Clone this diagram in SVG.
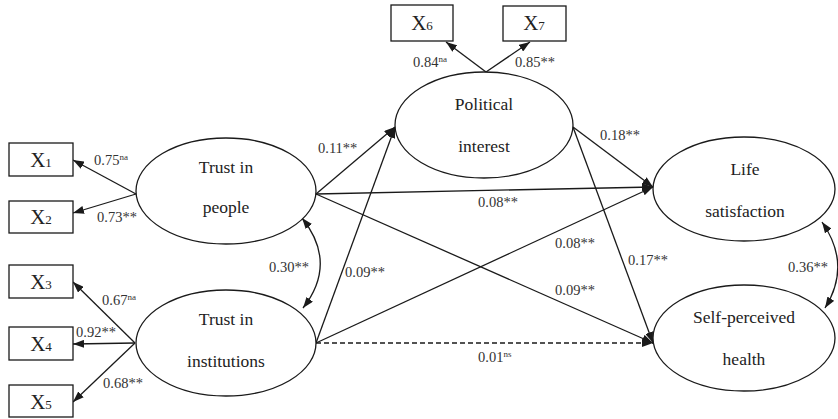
<svg xmlns="http://www.w3.org/2000/svg" width="838" height="419" viewBox="0 0 838 419">
<defs>
<marker id="ah" markerUnits="userSpaceOnUse" markerWidth="11" markerHeight="8" refX="11" refY="4" orient="auto-start-reverse">
<path d="M0,0 L11,4 L0,8 z" fill="#1a1a1a"/>
</marker>
</defs>
<style>
.n{fill:#fff;stroke:#1a1a1a;stroke-width:1.3}
.t{font-family:"Liberation Serif","Times New Roman",serif;font-size:17.5px;fill:#222;text-anchor:middle}
.x{font-family:"Liberation Serif","Times New Roman",serif;font-size:21px;fill:#222;text-anchor:middle}
.x tspan{font-size:13px}
.l{font-family:"Liberation Serif","Times New Roman",serif;font-size:14.5px;fill:#333}
.l tspan{font-size:9px}
.c{fill:none;stroke:#1a1a1a;stroke-width:1.3;marker-end:url(#ah)}
.d{stroke-dasharray:5,3}
.b{marker-start:url(#ah)}
</style>
<rect width="838" height="419" fill="#fff"/>
<g id="connectors">
<line class="c" x1="136" y1="194" x2="73" y2="160"/>
<line class="c" x1="136" y1="194" x2="73" y2="213"/>
<line class="c" x1="135" y1="343" x2="73" y2="282"/>
<line class="c" x1="135" y1="343" x2="73" y2="344"/>
<line class="c" x1="135" y1="343" x2="73" y2="402"/>
<line class="c" x1="486" y1="72" x2="446" y2="42"/>
<line class="c" x1="486" y1="72" x2="530" y2="42"/>
<line class="c" x1="316" y1="194" x2="395" y2="127"/>
<line class="c" x1="316" y1="343" x2="395" y2="127"/>
<line class="c" x1="316" y1="194" x2="653" y2="187"/>
<line class="c" x1="316" y1="343" x2="653" y2="187"/>
<line class="c" x1="573" y1="127" x2="653" y2="187"/>
<line class="c" x1="573" y1="127" x2="653" y2="343"/>
<line class="c" x1="316" y1="194" x2="653" y2="343"/>
<line class="c d" x1="316" y1="343" x2="653" y2="343"/>
<path class="c b" d="M302,218 Q338,263 303,308"/>
<path class="c b" d="M822,222 Q852,265 825,308"/>
</g>
<g id="trust-people"><ellipse class="n" cx="226" cy="191" rx="90" ry="53"/><text class="t" x="226" y="173">Trust in</text><text class="t" x="226" y="213">people</text></g>
<g id="trust-institutions"><ellipse class="n" cx="226" cy="343" rx="90" ry="53"/><text class="t" x="226" y="325">Trust in</text><text class="t" x="226" y="367">institutions</text></g>
<g id="political-interest"><ellipse class="n" cx="484" cy="125" rx="89" ry="53"/><text class="t" x="484" y="110">Political</text><text class="t" x="484" y="152">interest</text></g>
<g id="life-satisfaction"><ellipse class="n" cx="744" cy="189" rx="91" ry="52"/><text class="t" x="745" y="175">Life</text><text class="t" x="745" y="217">satisfaction</text></g>
<g id="self-perceived-health"><ellipse class="n" cx="744" cy="338" rx="91" ry="53"/><text class="t" x="744" y="323">Self-perceived</text><text class="t" x="744" y="365">health</text></g>
<g id="X1"><rect class="n" x="9" y="143" width="64" height="33"/><text class="x" x="41" y="167">X<tspan>1</tspan></text></g>
<g id="X2"><rect class="n" x="9" y="201" width="64" height="32"/><text class="x" x="41" y="224">X<tspan>2</tspan></text></g>
<g id="X3"><rect class="n" x="9" y="265" width="64" height="33"/><text class="x" x="41" y="289">X<tspan>3</tspan></text></g>
<g id="X4"><rect class="n" x="9" y="327" width="64" height="33"/><text class="x" x="41" y="351">X<tspan>4</tspan></text></g>
<g id="X5"><rect class="n" x="9" y="385" width="64" height="32"/><text class="x" x="41" y="409">X<tspan>5</tspan></text></g>
<g id="X6"><rect class="n" x="391" y="5" width="62" height="36"/><text class="x" x="422" y="30">X<tspan>6</tspan></text></g>
<g id="X7"><rect class="n" x="503" y="6" width="63" height="35"/><text class="x" x="534" y="30">X<tspan>7</tspan></text></g>
<g id="labels">
<text class="l" x="94" y="165">0.75<tspan dy="-5">na</tspan></text>
<text class="l" x="97" y="222">0.73**</text>
<text class="l" x="269" y="272">0.30**</text>
<text class="l" x="102" y="305">0.67<tspan dy="-5">na</tspan></text>
<text class="l" x="76" y="337">0.92**</text>
<text class="l" x="103" y="388">0.68**</text>
<text class="l" x="413" y="67">0.84<tspan dy="-5">na</tspan></text>
<text class="l" x="515" y="67">0.85**</text>
<text class="l" x="318" y="153">0.11**</text>
<text class="l" x="600" y="140">0.18**</text>
<text class="l" x="478" y="207">0.08**</text>
<text class="l" x="555" y="248">0.08**</text>
<text class="l" x="628" y="265">0.17**</text>
<text class="l" x="345" y="277">0.09**</text>
<text class="l" x="555" y="295">0.09**</text>
<text class="l" x="478" y="362">0.01<tspan dy="-5">ns</tspan></text>
<text class="l" x="788" y="272">0.36**</text>
</g>
</svg>
